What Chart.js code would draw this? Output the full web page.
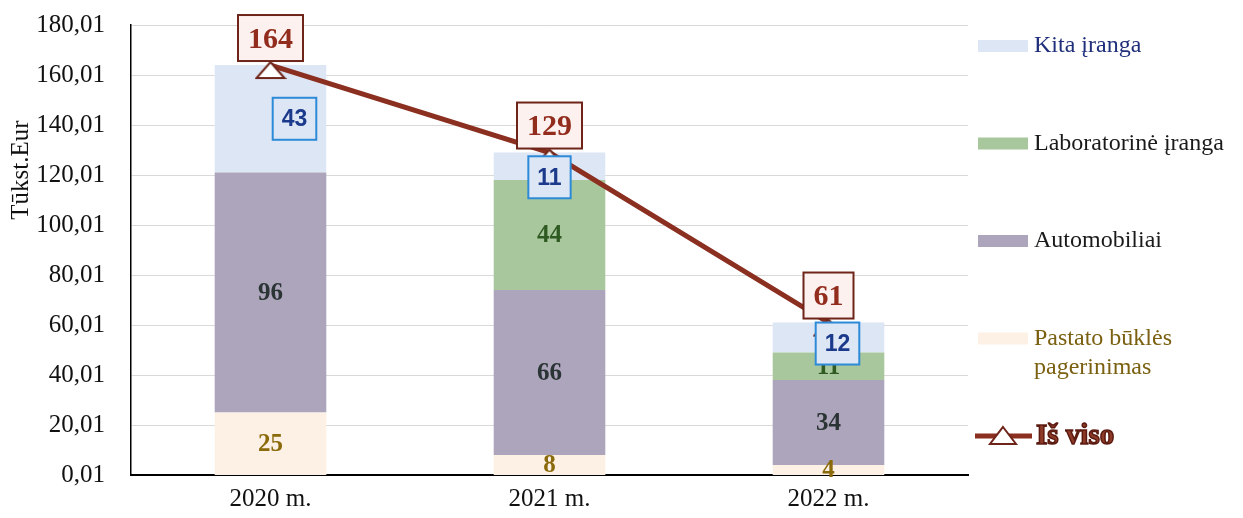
<!DOCTYPE html>
<html>
<head>
<meta charset="utf-8">
<script src="https://cdn.jsdelivr.net/npm/chart.js@4"></script>
<style>
html,body{margin:0;padding:0;background:#fff;}
#wrap{width:1243px;height:518px;position:relative;}
</style>
</head>
<body>
<div id="wrap"><canvas id="c" width="1243" height="518"></canvas></div>
<script>
// ---- data ----
const categories = ['2020 m.', '2021 m.', '2022 m.'];
const pastato = [25, 8, 4];
const automobiliai = [96, 66, 34];
const laboratorine = [0, 44, 11];
const kita = [43, 11, 12];
const isViso = [164, 129, 61];
const yTicks = [0.01, 20.01, 40.01, 60.01, 80.01, 100.01, 120.01, 140.01, 160.01, 180.01];
const yTitle = 'Tūkst.Eur';
const names = {
  kita: 'Kita įranga',
  lab: 'Laboratorinė įranga',
  auto: 'Automobiliai',
  pastato: ['Pastato būklės', 'pagerinimas'],
  total: 'Iš viso'
};

// ---- styles ----
const SERIF = '"Liberation Serif", "Times New Roman", serif';
const SANS = '"Liberation Sans", Arial, sans-serif';
const C = {
  pastato: '#fdf0e5', auto: '#aca5bb', lab: '#a9c79c', kita: '#dce6f4',
  line: '#8b2f20', lineDark: '#6e2418',
  pastatoTxt: '#8a6a0a', autoTxt: '#2b3434', labTxt: '#2f5a22', kitaTxt: '#1b3a8c',
  kitaBorder: '#2d8ad8', totalTxt: '#922c1c', totalFill: '#fdf1f0'
};
// label nudges for the "Kita" boxes (pixels), as in the original
const kitaNudge = [[24, 0], [0, 11], [9, 6]];

function makeTriangle() {
  const cv = document.createElement('canvas');
  cv.width = 32; cv.height = 30;
  const g = cv.getContext('2d');
  g.beginPath();
  g.moveTo(16, 12); g.lineTo(30, 28); g.lineTo(2, 28); g.closePath();
  g.fillStyle = '#ffffff'; g.fill();
  g.lineWidth = 2; g.strokeStyle = C.lineDark; g.stroke();
  return cv;
}
const tri = makeTriangle();

function box(ctx, cx, cy, w, h, fill, stroke, lw) {
  ctx.fillStyle = fill;
  ctx.fillRect(cx - w / 2, cy - h / 2, w, h);
  ctx.lineWidth = lw; ctx.strokeStyle = stroke;
  ctx.strokeRect(cx - w / 2, cy - h / 2, w, h);
}

const labelPlugin = {
  id: 'customLabels',
  afterDatasetsDraw(chart) {
    const ctx = chart.ctx;
    ctx.save();
    ctx.textAlign = 'center';
    ctx.textBaseline = 'middle';
    const plain = [[1, C.pastatoTxt], [2, C.autoTxt], [3, C.labTxt]];
    plain.forEach(([di, col]) => {
      const ds = chart.data.datasets[di];
      chart.getDatasetMeta(di).data.forEach((el, j) => {
        if (!ds.data[j]) return;
        ctx.font = 'bold 25px ' + SERIF;
        ctx.fillStyle = col;
        ctx.fillText(String(ds.data[j]), el.x, (el.y + el.base) / 2 + 1);
      });
    });
    // Kita boxes
    const kds = chart.data.datasets[4];
    chart.getDatasetMeta(4).data.forEach((el, j) => {
      const cx = el.x + kitaNudge[j][0];
      const cy = (el.y + el.base) / 2 + kitaNudge[j][1];
      ctx.font = 'bold 23px ' + SANS;
      const t = String(kds.data[j]);
      const w = ctx.measureText(t).width + 18;
      box(ctx, cx, cy, w, 42, C.kita, C.kitaBorder, 2);
      ctx.fillStyle = C.kitaTxt;
      ctx.fillText(t, cx, cy + 1);
    });
    // Totals
    const tds = chart.data.datasets[0];
    chart.getDatasetMeta(0).data.forEach((el, j) => {
      const t = String(tds.data[j]);
      ctx.font = 'bold 30px ' + SERIF;
      const w = ctx.measureText(t).width + 20;
      const h = 46;
      const cy = el.y - 4 - h / 2;
      box(ctx, el.x, cy, w, h, C.totalFill, C.lineDark, 2);
      ctx.fillStyle = C.totalTxt;
      ctx.fillText(t, el.x, cy + 2);
    });
    ctx.restore();
  },
  afterDraw(chart) {
    const ctx = chart.ctx;
    const a = chart.chartArea;
    ctx.save();
    // y title
    ctx.translate(21, 170);
    ctx.rotate(-Math.PI / 2);
    ctx.textAlign = 'center'; ctx.textBaseline = 'middle';
    ctx.font = '25px ' + SERIF; ctx.fillStyle = '#111';
    ctx.fillText(yTitle, 0, 0);
    ctx.restore();

    // legend
    ctx.save();
    const sx = a.right + 10, tx = a.right + 66;
    const step = 97.5, y0 = 46;
    const items = [
      [names.kita, C.kita, '#1f2f7a'],
      [names.lab, C.lab, '#1a1a1a'],
      [names.auto, C.auto, '#1a1a1a'],
      [names.pastato, C.pastato, '#7a6010']
    ];
    ctx.textBaseline = 'middle'; ctx.textAlign = 'left';
    ctx.font = '24px ' + SERIF;
    items.forEach(([txt, col, tcol], i) => {
      const y = y0 + i * step;
      ctx.fillStyle = col;
      ctx.fillRect(sx, y - 6, 50, 12);
      ctx.fillStyle = tcol;
      const lines = Array.isArray(txt) ? txt : [txt];
      lines.forEach((ln, k) => ctx.fillText(ln, tx, y + k * 29));
    });
    const ly = y0 + 4 * step;
    ctx.strokeStyle = C.line; ctx.lineWidth = 5;
    ctx.beginPath(); ctx.moveTo(sx - 3, ly); ctx.lineTo(sx + 54, ly); ctx.stroke();
    ctx.beginPath();
    ctx.moveTo(sx + 25, ly - 9); ctx.lineTo(sx + 38, ly + 8); ctx.lineTo(sx + 12, ly + 8); ctx.closePath();
    ctx.fillStyle = '#fff'; ctx.fill(); ctx.lineWidth = 2; ctx.strokeStyle = C.lineDark; ctx.stroke();
    ctx.font = 'bold 29px ' + SERIF;
    ctx.lineWidth = 1.5; ctx.strokeStyle = '#5a1a10';
    ctx.fillStyle = '#8e3a28';
    ctx.fillText(names.total, sx + 58, ly + 1);
    ctx.strokeText(names.total, sx + 58, ly + 1);
    ctx.restore();
  }
};

new Chart(document.getElementById('c'), {
  type: 'bar',
  data: {
    labels: categories,
    datasets: [
      { type: 'line', label: names.total, data: isViso, stack: 'total', order: 0,
        borderColor: C.line, borderWidth: 5, pointStyle: tri, pointRadius: 12,
        backgroundColor: C.line, tension: 0 },
      { label: names.pastato.join(' '), data: pastato, backgroundColor: C.pastato, stack: 's', order: 1 },
      { label: names.auto, data: automobiliai, backgroundColor: C.auto, stack: 's', order: 1 },
      { label: names.lab, data: laboratorine, backgroundColor: C.lab, stack: 's', order: 1 },
      { label: names.kita, data: kita, backgroundColor: C.kita, stack: 's', order: 1 }
    ]
  },
  options: {
    responsive: false,
    animation: false,
    devicePixelRatio: 1,
    layout: { autoPadding: false, padding: { left: 0, top: 25, right: 275, bottom: 0 } },
    datasets: { bar: { barPercentage: 0.4, categoryPercentage: 1.0 } },
    plugins: { legend: { display: false }, tooltip: { enabled: false }, title: { display: false } },
    scales: {
      x: {
        stacked: true,
        grid: { display: false, drawTicks: false },
        border: { display: true, color: '#000', width: 2 },
        ticks: { font: { family: SERIF, size: 25 }, color: '#111', padding: 9 },
        afterFit(s) { s.height = 43; }
      },
      y: {
        stacked: true,
        min: 0.01, max: 180.01,
        afterBuildTicks(s) { s.ticks = yTicks.map(v => ({ value: v })); },
        ticks: {
          font: { family: SERIF, size: 25 }, color: '#111', padding: 8,
          callback: v => Number(v).toFixed(2).replace('.', ',')
        },
        grid: { color: '#d9d9d9', lineWidth: 1, drawTicks: true, tickLength: 18, tickColor: 'rgba(0,0,0,0)' },
        border: { display: true, color: '#000', width: 1.5 },
        afterFit(s) { s.width = 131; }
      }
    }
  },
  plugins: [labelPlugin]
});
</script>
</body>
</html>
